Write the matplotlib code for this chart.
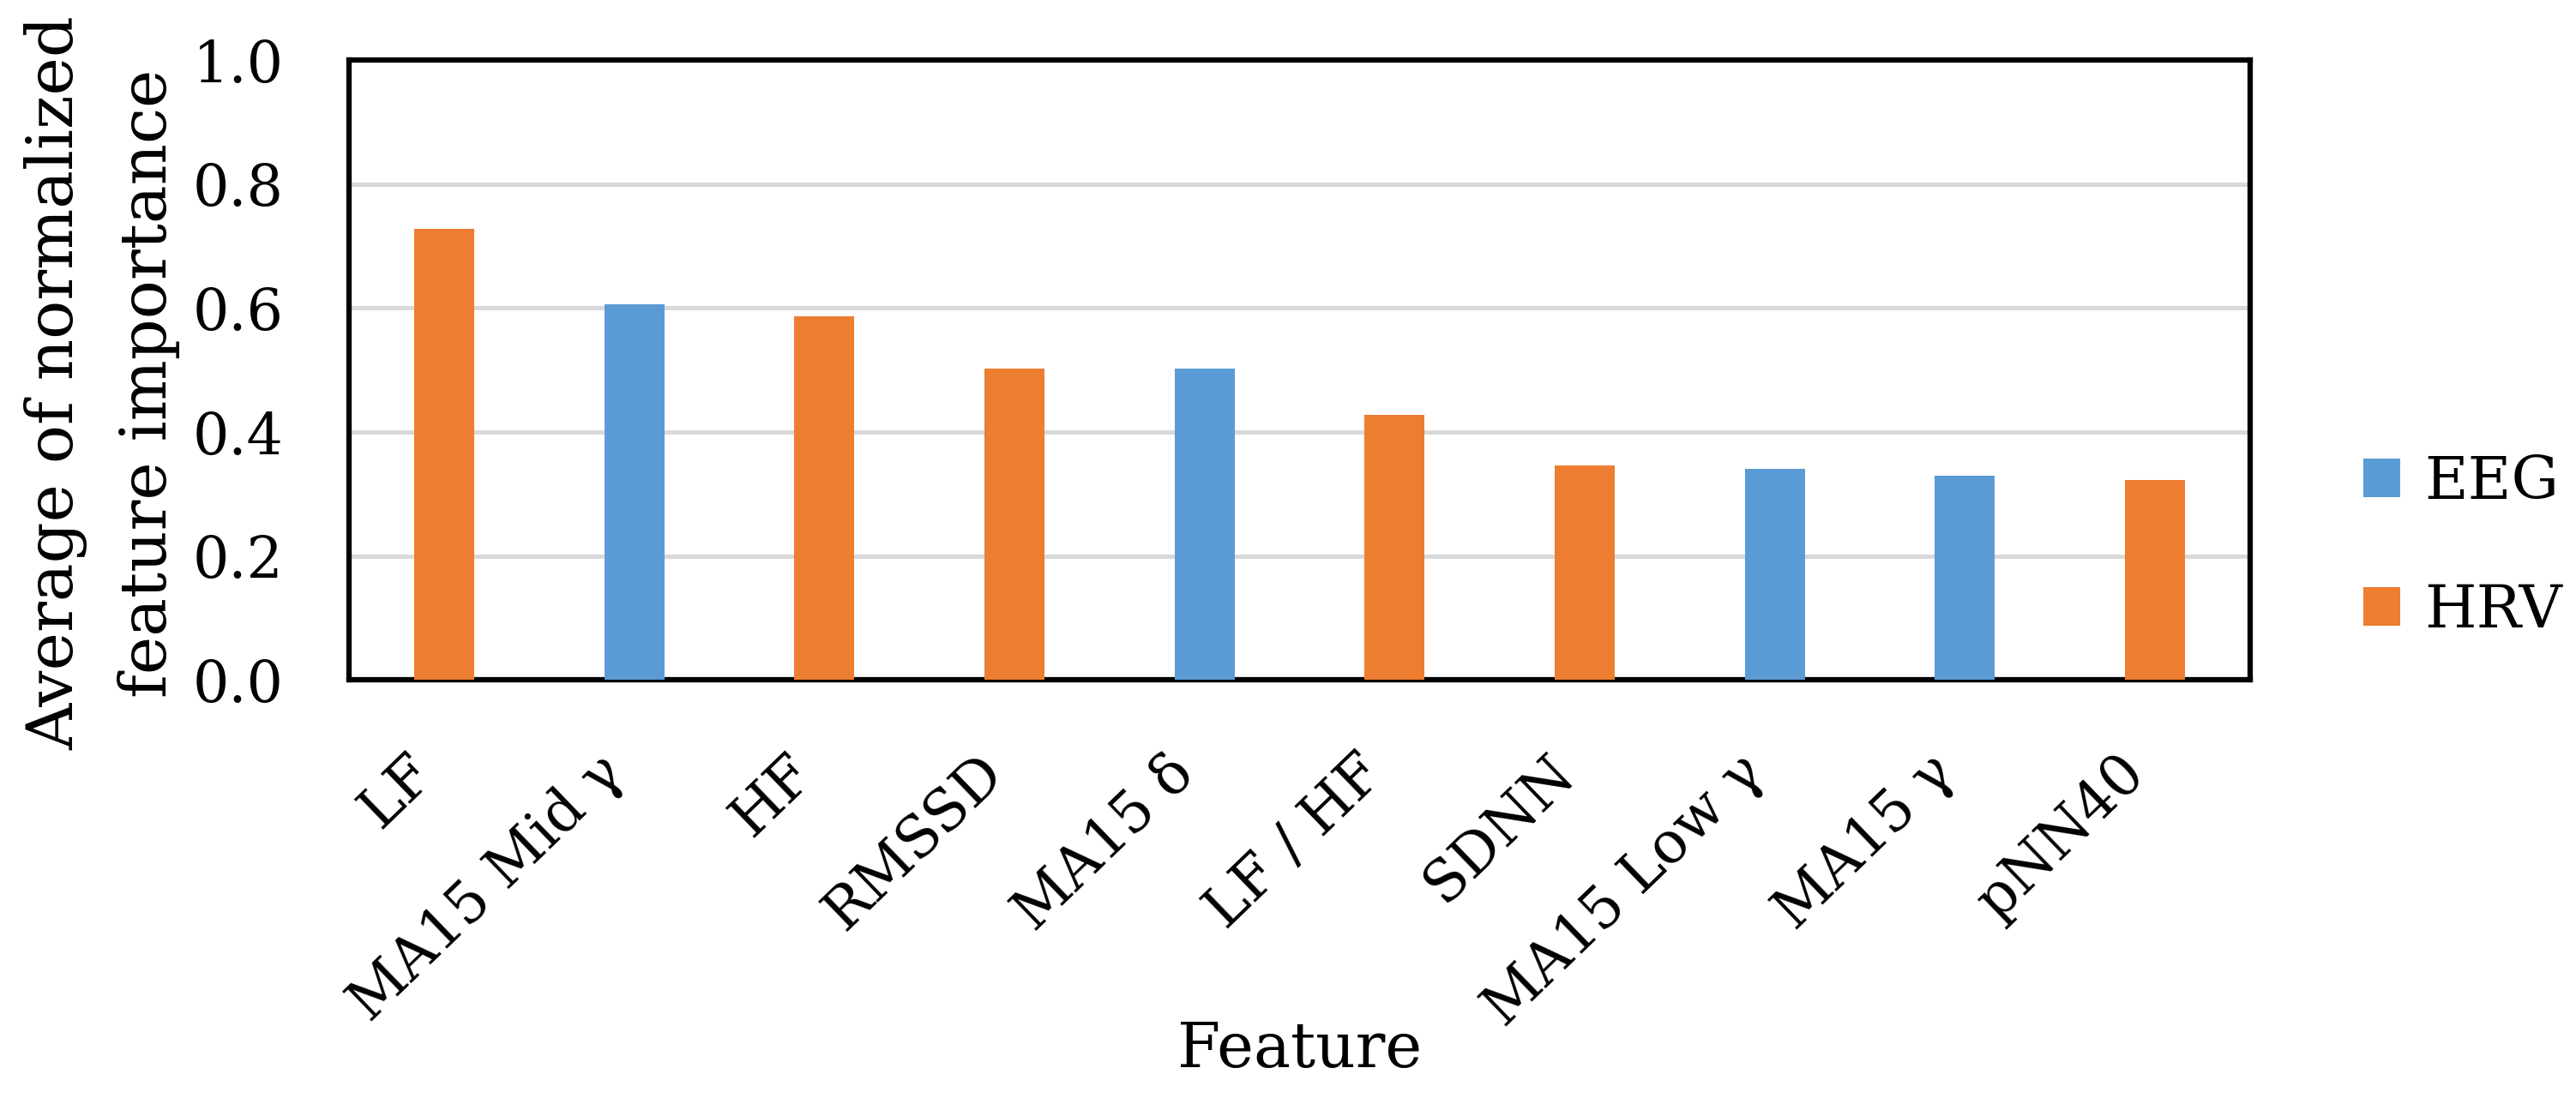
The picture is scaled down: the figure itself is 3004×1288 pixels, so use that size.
import numpy as np
import matplotlib
matplotlib.use("Agg")
import matplotlib.pyplot as plt
from matplotlib.patches import Patch

# values
features = ["LF", "MA15 Mid γ", "HF", "RMSSD", "MA15 δ",
            "LF / HF", "SDNN", "MA15 Low γ", "MA15 γ", "pNN40"]
importance = [0.727, 0.606, 0.587, 0.503, 0.502,
              0.427, 0.346, 0.340, 0.330, 0.322]
group = ["HRV", "EEG", "HRV", "HRV", "EEG",
         "HRV", "HRV", "EEG", "EEG", "HRV"]
yticks = [0.0, 0.2, 0.4, 0.6, 0.8, 1.0]

colors = {"EEG": "#5B9BD5", "HRV": "#ED7D31"}

plt.rcParams["font.family"] = ["DejaVu Serif"]

fig = plt.figure(figsize=(30.04, 12.88), dpi=100)
ax = fig.add_axes([0.1355, 0.384, 0.8735 - 0.1355, 0.9457 - 0.384])

x = np.arange(len(features))
ax.bar(x, importance, width=0.316, color=[colors[g] for g in group], zorder=3)

ax.set_ylim(0, 1.0)
ax.set_xlim(-0.5, len(features) - 0.5)
ax.set_yticks(yticks)
ax.set_yticklabels(["%.1f" % v for v in yticks], fontsize=48)
ax.set_xticks(x)
ax.set_xticklabels(features, rotation=44, ha="right", fontsize=48)
ax.tick_params(axis="both", length=0)
ax.tick_params(axis="y", pad=55)
ax.tick_params(axis="x", pad=54)

ax.grid(axis="y", color="#D9D9D9", linewidth=3.6, zorder=0)
for s in ax.spines.values():
    s.set_linewidth(4.5)
    s.set_color("black")

ax.set_ylabel("Average of normalized\nfeature importance", fontsize=54, linespacing=1.6)
ax.yaxis.set_label_coords(-0.089, 0.479)
ax.set_xlabel("Feature", fontsize=52)
ax.xaxis.set_label_coords(0.5, -0.548)

handles = [Patch(facecolor=colors[k]) for k in ["EEG", "HRV"]]
fig.legend(handles, ["EEG", "HRV"], loc="center left", bbox_to_anchor=(0.9174, 0.505),
           frameon=False, fontsize=50, handlelength=0.62, handleheight=0.62,
           labelspacing=1.2, handletextpad=0.4, borderaxespad=0, borderpad=0)

fig.savefig("out.png", dpi=100)
